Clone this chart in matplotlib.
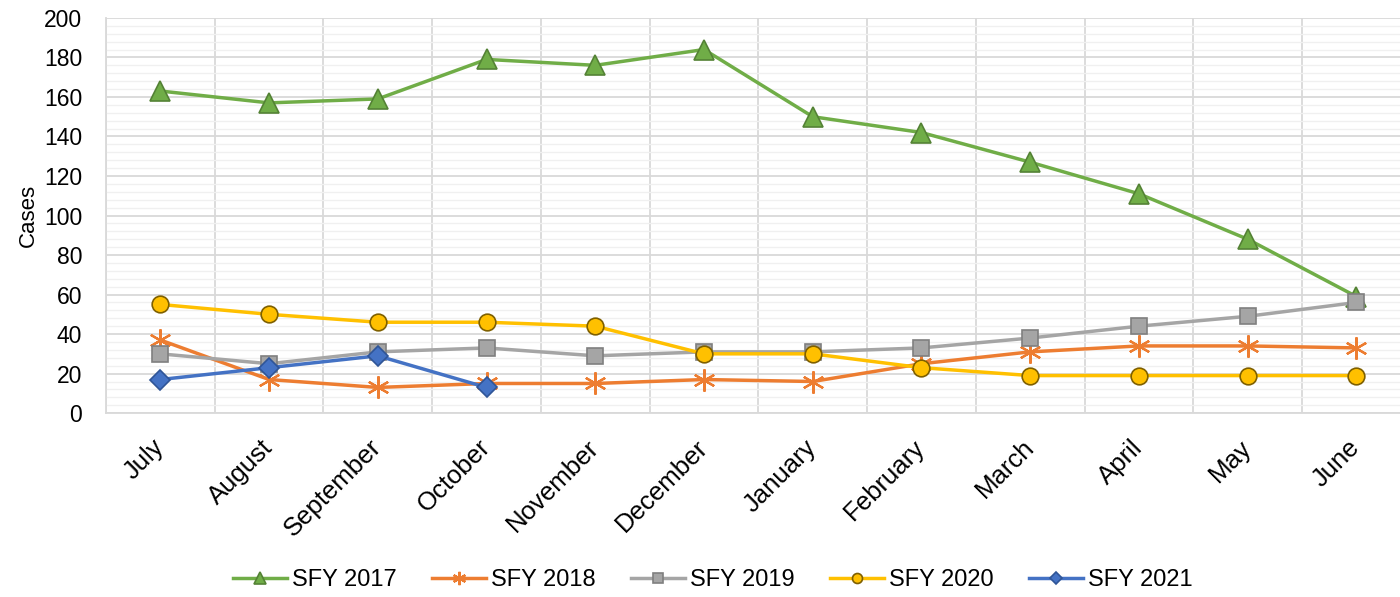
import matplotlib
matplotlib.use("Agg")
import matplotlib.pyplot as plt
from matplotlib.ticker import MultipleLocator, FixedLocator

plt.rcParams['font.family'] = ['Liberation Sans', 'DejaVu Sans']

months = ["July", "August", "September", "October", "November", "December",
          "January", "February", "March", "April", "May", "June"]
sfy2017 = [163, 157, 159, 179, 176, 184, 150, 142, 127, 111, 88, 59]
sfy2018 = [37, 17, 13, 15, 15, 17, 16, 25, 31, 34, 34, 33]
sfy2019 = [30, 25, 31, 33, 29, 31, 31, 33, 38, 44, 49, 56]
sfy2020 = [55, 50, 46, 46, 44, 30, 30, 23, 19, 19, 19, 19]
sfy2021 = [17, 23, 29, 13]

fig = plt.figure(figsize=(14, 5.97), dpi=100)
ax = fig.add_axes([0.0757, 0.308, 0.932, 0.662])

x = list(range(len(months)))
series = [
    ("SFY 2017", sfy2017, "#70AD47", "^", "#548235", 14.5, 1.2),
    ("SFY 2018", sfy2018, "#ED7D31", (6, 2, 0), "#ED7D31", 16, 1.6),
    ("SFY 2019", sfy2019, "#A5A5A5", "s", "#7F7F7F", 11, 1.2),
    ("SFY 2020", sfy2020, "#FFC000", "o", "#7F6000", 12, 1.2),
    ("SFY 2021", sfy2021, "#4472C4", "D", "#2F5597", 10, 1.2),
]
for name, vals, col, mk, ec, ms, mew in series:
    ax.plot(x[:len(vals)], vals, color=col, lw=2.5, marker=mk, markersize=ms,
            markerfacecolor=col, markeredgecolor=ec, markeredgewidth=mew,
            label=name, zorder=3)

ax.set_xlim(-0.5, 11.5)
ax.set_ylim(0, 200)
ax.yaxis.set_major_locator(MultipleLocator(20))
ax.yaxis.set_minor_locator(MultipleLocator(4))
ax.set_xticks(x)
ax.set_xticklabels(months, rotation=45, ha='right', va='center',
                   rotation_mode='anchor', fontsize=18.5)
ax.xaxis.set_minor_locator(FixedLocator([i + 0.5 for i in range(-1, 12)]))
ax.tick_params(axis='y', labelsize=16.5, length=0, which='both', pad=17)
ax.tick_params(axis='x', length=0, which='both', pad=22)

ax.grid(which='major', axis='y', color='#D9D9D9', lw=1.3, zorder=0)
ax.grid(which='minor', axis='y', color='#F0F0F0', lw=1.0, zorder=0)
ax.grid(which='minor', axis='x', color='#D9D9D9', lw=1.3, zorder=0)
ax.set_axisbelow(True)
for s in ['top', 'right']:
    ax.spines[s].set_visible(False)
for s in ['left', 'bottom']:
    ax.spines[s].set_color('#D9D9D9')
    ax.spines[s].set_linewidth(1.3)

ax.set_ylabel("Cases", fontsize=16, labelpad=4)

fig.legend(loc='center', bbox_to_anchor=(0.509, 0.028), ncol=5, frameon=False,
           fontsize=17, handlelength=2.3, columnspacing=1.5, handletextpad=0.2,
           markerscale=0.6)

fig.savefig("out.png", dpi=100)
